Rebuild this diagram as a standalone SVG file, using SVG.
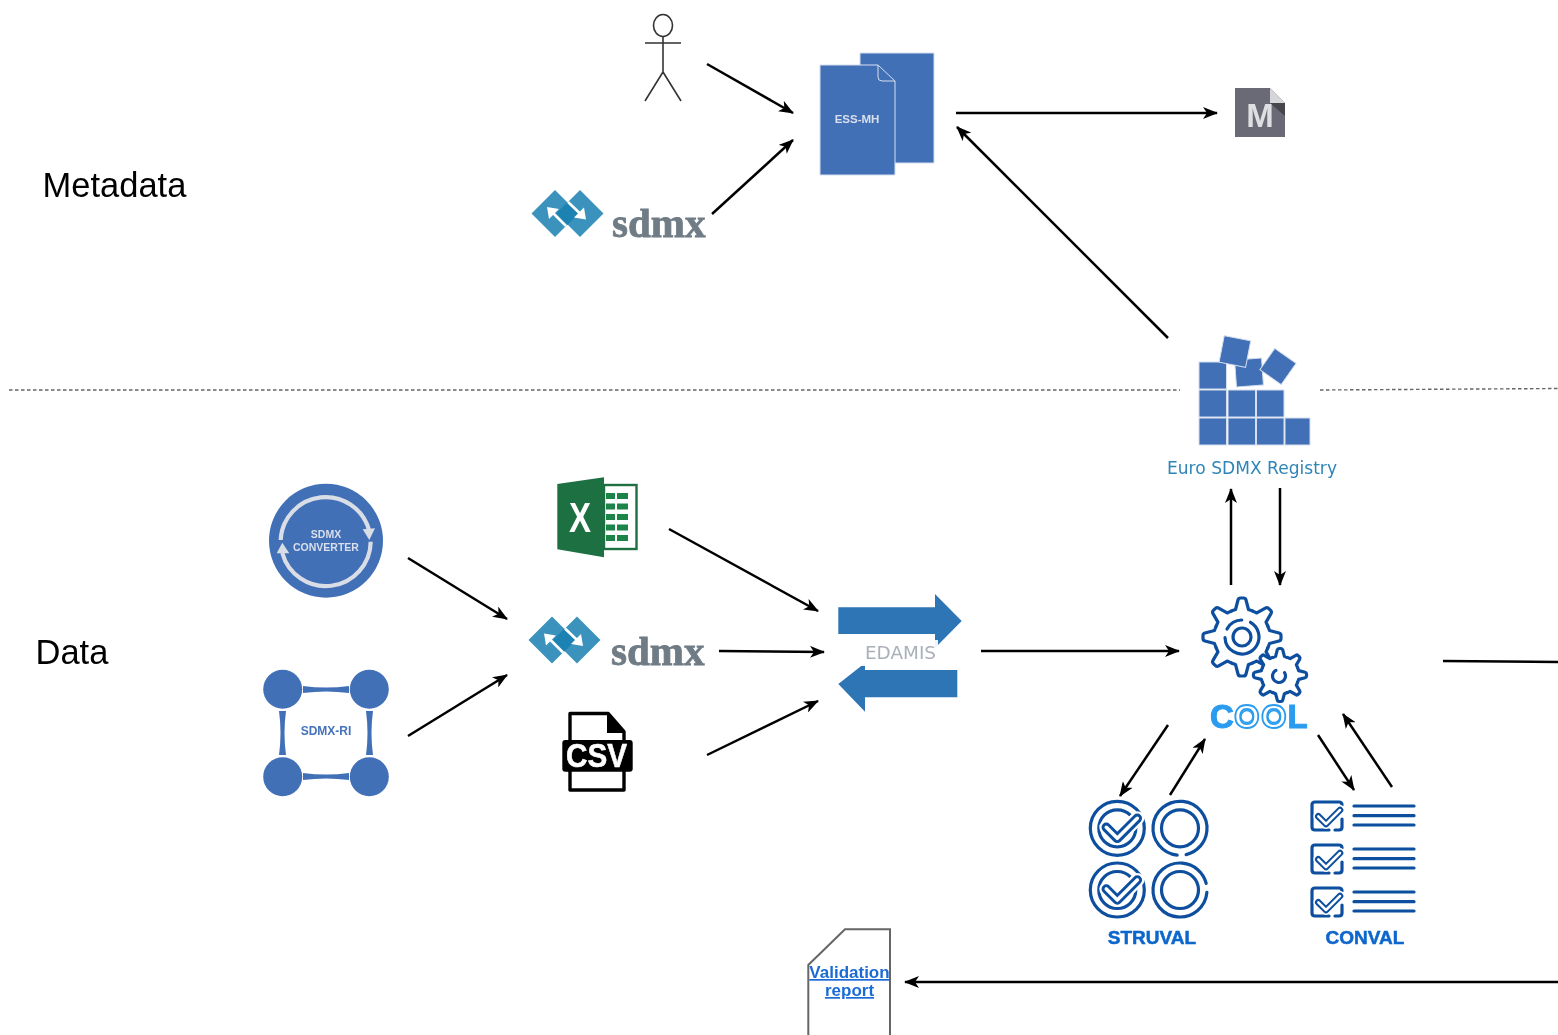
<svg xmlns="http://www.w3.org/2000/svg" xmlns:xlink="http://www.w3.org/1999/xlink" width="1558" height="1035" viewBox="0 0 1558 1035">
<style>
text{font-family:"Liberation Sans",Arial,sans-serif}
.c{fill:none;stroke:#000;stroke-width:2.5;marker-end:url(#ah)}
.p{fill:none;stroke:#000;stroke-width:2.5}
.d{fill:none;stroke:#666;stroke-width:1.4;stroke-dasharray:3.5 2.5}
.b{fill:#4270b7}
.bl{fill:#4270b7;stroke:#d5deee;stroke-width:1}
.i{fill:none;stroke:#0d4f9e;stroke-width:3.2;stroke-linecap:round;stroke-linejoin:round}
.lab{font-weight:700;font-size:19px;fill:#0b66cc;text-anchor:middle;stroke:#0b66cc;stroke-width:.5}
.sd{font-family:"Liberation Serif","Times New Roman",serif;font-weight:700;font-size:41px;fill:#6f7b85;stroke:#6f7b85;stroke-width:.8}
.big{font-size:34.500px;fill:#000}
.w{font-weight:700;fill:#d9dfec;text-anchor:middle}
.val{font-weight:700;font-size:17px;fill:#1a6bd6;text-anchor:middle;text-decoration:underline}
.all{filter:url(#soft)}
</style>
<defs>
<filter id="soft" x="0" y="0" width="1558" height="1035" filterUnits="userSpaceOnUse"><feGaussianBlur stdDeviation="0.45"/></filter>
<marker id="ah" viewBox="0 0 15 12" refX="14" refY="6" markerWidth="15" markerHeight="12" markerUnits="userSpaceOnUse" orient="auto"><path d="M15 6L0 0L4 6L0 12Z" fill="#000"/></marker>
<g id="logo">
<path d="M0 -23.500L23.500 0L0 23.500L-23.500 0Z" fill="#3a93bd"/>
<path d="M25 -23.500L48.500 0L25 23.500L1.500 0Z" fill="#3a93bd"/>
<path d="M12.500 -11.500L24 0L12.500 11.500L1 0Z" fill="#1f82b2"/>
<path d="M11 12.500L-2 -0.500M13 -11.500L25 0" stroke="#fff" stroke-width="2.600" fill="none"/>
<path d="M4 -4.500L-6 5.500L-8 -6.500Z" fill="#fff"/>
<path d="M29 -6L19 4L31 6Z" fill="#fff"/>
</g>
<g id="tooth"><path d="M-10.700 -25.900L-6.500 -27.500L-4 -37Q-3.500 -39 -1.500 -39L1.500 -39Q3.500 -39 4 -37L6.500 -27.500L10.700 -25.900"/></g>
<g id="gear">
<use xlink:href="#tooth"/><use xlink:href="#tooth" transform="rotate(45)"/><use xlink:href="#tooth" transform="rotate(90)"/><use xlink:href="#tooth" transform="rotate(135)"/><use xlink:href="#tooth" transform="rotate(180)"/><use xlink:href="#tooth" transform="rotate(225)"/><use xlink:href="#tooth" transform="rotate(270)"/><use xlink:href="#tooth" transform="rotate(315)"/>
</g>
<g id="chk">
<path d="M-11 -1L0 10L20 -10" fill="none" stroke="#fff" stroke-width="14" stroke-linecap="round" stroke-linejoin="round"/>
<path d="M-11 -1L0 10L20 -10" fill="none" stroke="#0d4f9e" stroke-width="9.500" stroke-linecap="round" stroke-linejoin="round"/>
<path d="M-11 -1L0 10L20 -10" fill="none" stroke="#fff" stroke-width="3.600" stroke-linecap="round" stroke-linejoin="round"/>
</g>
<g id="box">
<path class="i" d="M18 29L4 29Q1 29 1 26L1 4Q1 1 4 1L28 1Q31 1 31 4M31 18L31 26Q31 29 28 29L24 29"/>
<g transform="translate(15 16) scale(.7)"><use xlink:href="#chk"/></g>
<path class="i" d="M43 5H103M43 14.700H103M43 24H103"/>
</g>
</defs>

<g class="all">
<g id="divider">
<path class="d" d="M9 390H1180"/>
<path class="d" d="M1320 390L1558 388.500"/>
</g>

<g id="connectors">
<path class="c" d="M707 64L793 113"/>
<path class="c" d="M712 214L793 140"/>
<path class="c" d="M956 113H1217"/>
<path class="c" d="M1168 338L957 127"/>
<path class="c" d="M408 558L507 619"/>
<path class="c" d="M408 736L507 675"/>
<path class="c" d="M669 529L818 611"/>
<path class="c" d="M719 651L824 652"/>
<path class="c" d="M707 755L818 701"/>
<path class="c" d="M981 651H1179"/>
<path class="c" d="M1231 585V489"/>
<path class="c" d="M1280 488V585"/>
<path class="c" d="M1168 725L1120 796"/>
<path class="c" d="M1170 795L1205 739"/>
<path class="c" d="M1318 735L1354 790"/>
<path class="c" d="M1392 787L1343 714"/>
<path class="p" d="M1443 661L1558 662"/>
<path class="c" d="M1558 982H905"/>
</g>

<g id="label-metadata"><text class="big" x="42.500" y="197">Metadata</text></g>
<g id="label-data"><text class="big" x="35.500" y="664">Data</text></g>

<g id="person" fill="none" stroke="#333" stroke-width="1.600">
<ellipse cx="663" cy="25.500" rx="9.500" ry="11"/>
<path d="M645 43H681M663 36.500V72L645 101M663 72L681 101"/>
</g>

<g id="sdmx-top">
<use xlink:href="#logo" transform="translate(555 213.500)"/>
<text class="sd" x="612" y="237">sdmx</text>
</g>

<g id="ess-mh">
<rect class="bl" x="860" y="53" width="74" height="110"/>
<path class="bl" d="M820 65H878L895 81V175H820Z"/>
<path d="M878 65V77Q878 81 882 81H895" fill="none" stroke="#d5deee" stroke-width="1"/>
<text class="w" x="857" y="123" font-size="11.500">ESS-MH</text>
</g>

<g id="m-icon">
<path d="M1235 88H1270L1285 103V137H1235Z" fill="#696b76"/>
<path d="M1270 88L1285 103H1270Z" fill="#d6d6da"/>
<path d="M1270 103H1285V116Z" fill="#45464e"/>
<text x="1260" y="127" font-size="33" font-weight="700" fill="#dfdfe2" text-anchor="middle">M</text>
</g>

<g id="registry">
<rect class="bl" x="1235.500" y="359" width="27" height="27" transform="rotate(-4 1249 372.500)"/>
<rect class="bl" x="1199" y="362" width="27.500" height="27"/>
<rect class="bl" x="1199" y="390" width="27.500" height="27"/>
<rect class="bl" x="1228" y="390" width="27.500" height="27"/>
<rect class="bl" x="1256.500" y="390" width="27.500" height="27"/>
<rect class="bl" x="1199" y="418" width="27.500" height="27"/>
<rect class="bl" x="1228" y="418" width="27.500" height="27"/>
<rect class="bl" x="1256.500" y="418" width="27.500" height="27"/>
<rect class="bl" x="1285" y="418" width="25" height="27"/>
<rect class="bl" x="1221.500" y="338" width="27" height="27" transform="rotate(11 1235 351)"/>
<rect class="bl" x="1265" y="353.500" width="26" height="26" transform="rotate(35 1278 366.500)"/>
<text x="1167" y="474" font-size="17" textLength="170" lengthAdjust="spacingAndGlyphs" fill="#2f85b8" style="font-family:'DejaVu Sans',sans-serif">Euro SDMX Registry</text>
</g>

<g id="sdmx-converter">
<circle class="b" cx="326" cy="540.700" r="57"/>
<path d="M280.700 540A45 45 0 0 1 369 530M370.700 541.700A45 45 0 0 1 282.300 553" fill="none" stroke="#d9dde6" stroke-width="4.200"/>
<path d="M362.700 529.300L375 528.300L369.300 540Z" fill="#d9dde6"/>
<path d="M276.700 553.300H289.300L282.300 542.700Z" fill="#d9dde6"/>
<text class="w" x="326" y="538" font-size="10.500">SDMX</text>
<text class="w" x="326" y="551" font-size="10.500">CONVERTER</text>
</g>

<g id="sdmx-ri">
<path class="b" d="M303 686Q326 689 349 686V693Q326 690 303 693Z"/>
<path class="b" d="M303 773Q326 776 349 773V780Q326 777 303 780Z"/>
<path class="b" d="M279 711Q282 733 279 755H286Q283 733 286 711Z"/>
<path class="b" d="M366 711Q369 733 366 755H373Q370 733 373 711Z"/>
<circle class="b" cx="282.700" cy="689.300" r="19.500"/>
<circle class="b" cx="369.300" cy="689.300" r="19.500"/>
<circle class="b" cx="282.700" cy="776.700" r="19.500"/>
<circle class="b" cx="369.300" cy="776.700" r="19.500"/>
<text x="326" y="735" font-size="12" font-weight="700" fill="#4472b8" text-anchor="middle">SDMX-RI</text>
</g>

<g id="excel">
<rect x="604" y="485" width="32.500" height="64" fill="#fff" stroke="#1e6f42" stroke-width="2.400"/>
<path fill="#1e8449" d="M606 493h9v6h-9zM617 493h11v6h-11zM606 503.500h9v6h-9zM617 503.500h11v6h-11zM606 514h9v6h-9zM617 514h11v6h-11zM606 524.500h9v6h-9zM617 524.500h11v6h-11zM606 535h9v6h-9zM617 535h11v6h-11z"/>
<path d="M557.300 484L604 477.300V557.300L557.300 549.300Z" fill="#1e6f42"/>
<text x="569" y="532" font-size="43" font-weight="700" fill="#fff" textLength="22" lengthAdjust="spacingAndGlyphs">X</text>
</g>

<g id="sdmx-mid">
<use xlink:href="#logo" transform="translate(552 640)"/>
<text class="sd" x="611" y="665">sdmx</text>
</g>

<g id="csv">
<path d="M570 740V713.500H608.300L624 731.700V790H570V770" fill="#fff" stroke="#000" stroke-width="3.400" stroke-linejoin="round"/>
<path d="M607 712L625 733H607Z" fill="#000"/>
<rect x="562.300" y="740" width="70.400" height="31.700" rx="3" fill="#000"/>
<text x="566" y="767" font-size="34" font-weight="700" fill="#fff" stroke="#fff" stroke-width=".6" textLength="61" lengthAdjust="spacingAndGlyphs">CSV</text>
</g>

<g id="edamis">
<path d="M838.300 607.300H935V594L961.700 621L935 648V634H838.300Z" fill="#2e75b6"/>
<path d="M957.300 670V697.300H865V711.700L838.300 684L865 663V670Z" fill="#2e75b6"/>
<rect x="860" y="640" width="78" height="26" fill="#fff" fill-opacity=".92"/>
<text x="865" y="658.500" font-size="18" fill="#aab0b8" textLength="71" lengthAdjust="spacingAndGlyphs" style="font-family:'DejaVu Sans',sans-serif">EDAMIS</text>
</g>

<g id="cool">
<g class="i" transform="translate(1242 637)"><use xlink:href="#gear"/></g>
<circle class="i" cx="1242" cy="637" r="9"/>
<circle class="i" cx="1242" cy="637" r="17" stroke-dasharray="70 9 18 10" transform="rotate(-60 1242 637)"/>
<circle cx="1280" cy="675" r="20" fill="#fff"/>
<g class="i" transform="translate(1280 675) scale(.68)" style="stroke-width:4.700"><use xlink:href="#gear"/></g>
<circle class="i" cx="1279" cy="676" r="6.500" stroke-dasharray="30 11" transform="rotate(-30 1279 676)"/>
<text x="1210" y="728" font-size="33" font-weight="700" fill="#2b9cf0" stroke="#2b9cf0" stroke-width="1">C<tspan x="1234" fill="#fff" stroke-width="1.800">O</tspan><tspan x="1261" fill="#fff" stroke-width="1.800">O</tspan><tspan x="1287.500">L</tspan></text>
<circle cx="1246.900" cy="716.600" r="6" fill="none" stroke="#2b9cf0" stroke-width="1.500"/>
<circle cx="1273.900" cy="716.600" r="6" fill="none" stroke="#2b9cf0" stroke-width="1.500"/>
</g>

<g id="struval">
<circle class="i" cx="1117.300" cy="828.300" r="27"/>
<circle class="i" cx="1117.300" cy="828.300" r="18.500"/>
<use xlink:href="#chk" transform="translate(1117.300 828.300)"/>
<circle class="i" cx="1180" cy="828.300" r="27" stroke-dasharray="160 10" transform="rotate(96 1180 828.300)"/>
<circle class="i" cx="1180" cy="828.300" r="18.500"/>
<circle class="i" cx="1117.300" cy="890" r="27"/>
<circle class="i" cx="1117.300" cy="890" r="18.500"/>
<use xlink:href="#chk" transform="translate(1117.300 890)"/>
<circle class="i" cx="1180" cy="890" r="27" stroke-dasharray="160 10" transform="rotate(5 1180 890)"/>
<circle class="i" cx="1180" cy="890" r="18.500"/>
<text class="lab" x="1152" y="944">STRUVAL</text>
</g>

<g id="conval">
<use xlink:href="#box" transform="translate(1311 801)"/>
<use xlink:href="#box" transform="translate(1311 844)"/>
<use xlink:href="#box" transform="translate(1311 887)"/>
<text class="lab" x="1365" y="944">CONVAL</text>
</g>

<g id="validation-report">
<path d="M808.300 1040V965L845 929.300H890V1040" fill="#fff" stroke="#666" stroke-width="2"/>
<text class="val" x="849.500" y="978">Validation</text>
<text class="val" x="849.500" y="996">report</text>
</g>
</g>
</svg>
